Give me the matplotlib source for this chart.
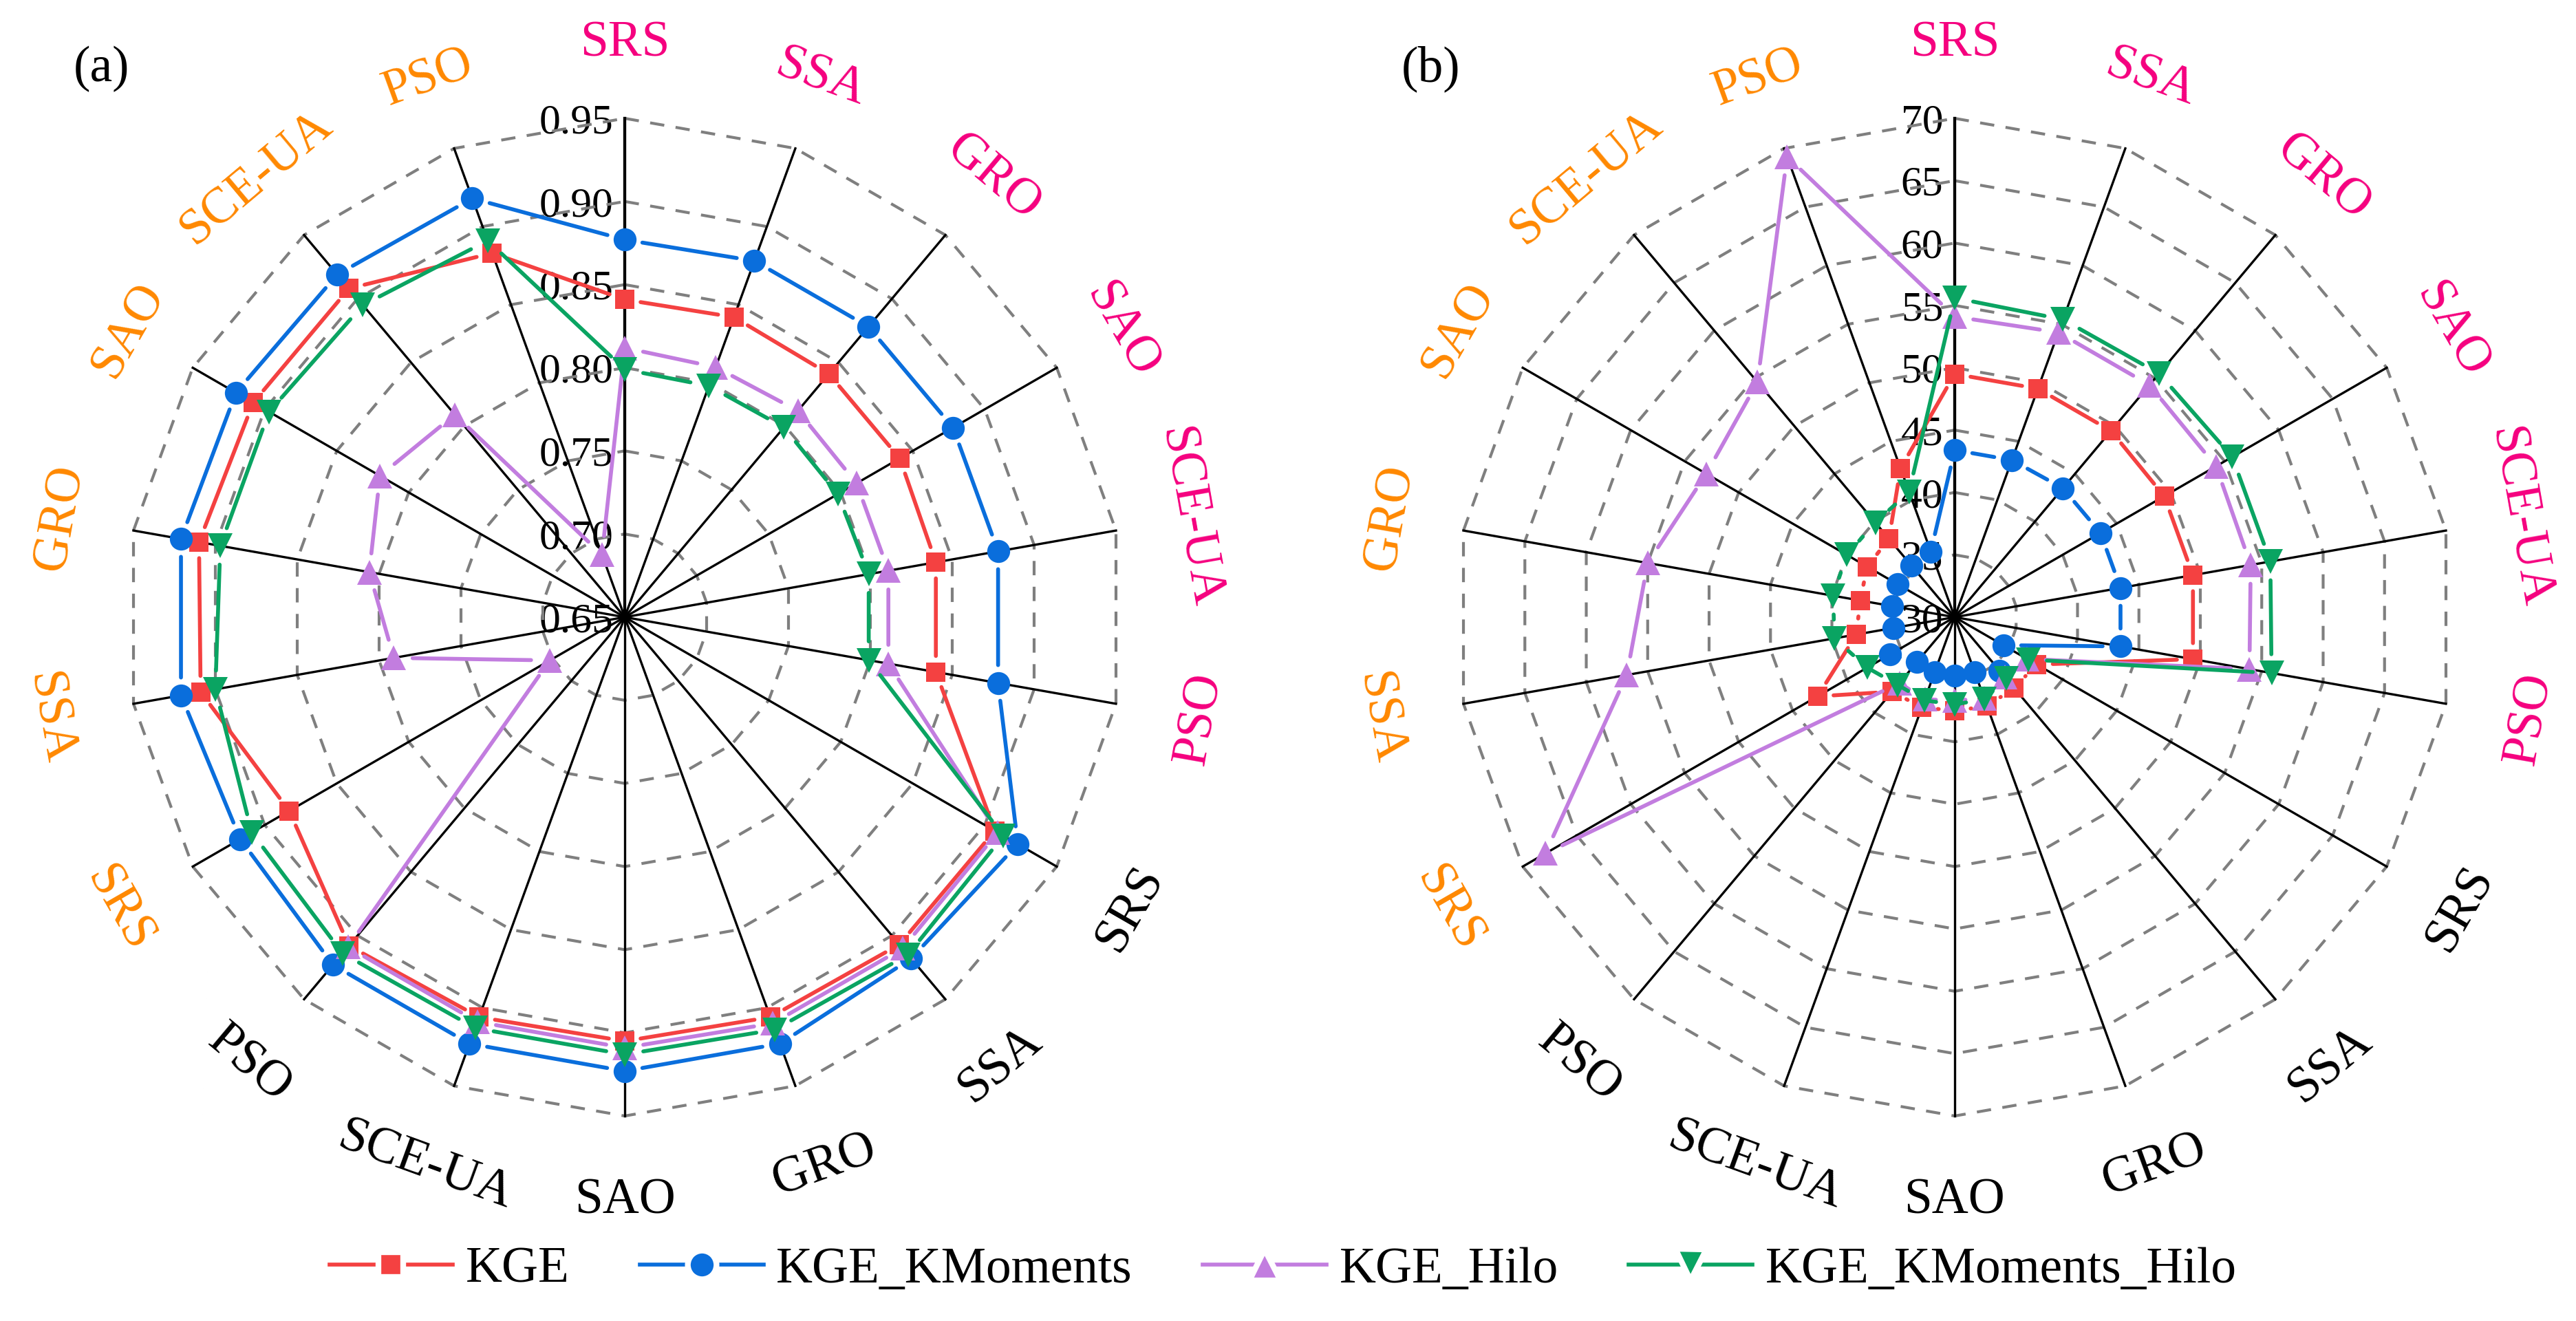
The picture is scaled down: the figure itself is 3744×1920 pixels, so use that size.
import numpy as np
import matplotlib
matplotlib.use('Agg')
from matplotlib import pyplot as plt
from matplotlib.lines import Line2D

plt.rcParams['font.family'] = ['Liberation Serif', 'DejaVu Serif']

# spoke labels, clockwise from the top
algs = ['SRS', 'SSA', 'GRO', 'SAO', 'SCE-UA', 'PSO']
labels = algs * 3
label_cols = ['#F5007F'] * 6 + ['black'] * 6 + ['#FF8800'] * 6

names = ['KGE', 'KGE_KMoments', 'KGE_Hilo', 'KGE_KMoments_Hilo']

# panel (a)
kge_a = [0.841, 0.842, 0.841, 0.841, 0.840, 0.840, 0.907, 0.907, 0.906,
         0.905, 0.906, 0.908, 0.883, 0.909, 0.910, 0.908, 0.908, 0.883]
kmom_a = [0.877, 0.878, 0.878, 0.878, 0.878, 0.878, 0.923, 0.918, 0.923,
          0.923, 0.923, 0.923, 0.917, 0.921, 0.921, 0.920, 0.919, 0.918]
hilo_a = [0.812, 0.810, 0.812, 0.811, 0.811, 0.811, 0.909, 0.910, 0.910,
          0.909, 0.909, 0.909, 0.702, 0.791, 0.806, 0.820, 0.809, 0.690]
kmh_a = [0.799, 0.798, 0.799, 0.798, 0.799, 0.799, 0.913, 0.915, 0.914,
         0.913, 0.913, 0.914, 0.909, 0.900, 0.897, 0.897, 0.895, 0.891]
ticks_a = [0.65, 0.70, 0.75, 0.80, 0.85, 0.90, 0.95]
ticklab_a = ['0.65', '0.70', '0.75', '0.80', '0.85', '0.90', '0.95']

# panel (b)
kge_b = [49.5, 49.5, 49.5, 49.4, 49.4, 49.4, 37.6, 37.4, 37.6,
         37.5, 37.7, 37.8, 42.7, 38.0, 37.7, 38.1, 38.2, 42.7]
kmom_b = [43.4, 43.4, 43.5, 43.5, 43.5, 43.5, 34.5, 35.6, 34.7,
          34.7, 34.7, 34.7, 36.0, 35.0, 35.1, 35.3, 35.4, 35.6]
hilo_b = [54.1, 54.3, 54.3, 54.2, 54.1, 54.0, 36.7, 36.3, 36.9,
          36.7, 37.0, 36.9, 67.9, 56.7, 55.0, 53.0, 54.6, 69.3]
kmh_b = [55.6, 55.4, 55.5, 55.7, 55.7, 55.8, 36.8, 36.4, 37.0,
         37.0, 37.1, 37.1, 38.1, 39.8, 39.9, 40.0, 39.9, 40.7]
ticks_b = [30, 35, 40, 45, 50, 55, 60, 65, 70]
ticklab_b = [str(t) for t in ticks_b]

colors = ['#F44141', '#0A6EDC', '#C27DDF', '#0AA462']
markers = ['s', 'o', '^', 'v']
msizes = [8.4, 10, 11, 11]
shrinks = [7.0, 7.8, 8.2, 8.2]

W, H = 3744, 1920
R = 725
fig = plt.figure(figsize=(15.6, 8.0), dpi=240)


def radar(cx, cy, series, ticks, ticklabs, tag):
    ax = fig.add_axes([(cx - R) / W, 1 - (cy + R) / H, 2 * R / W, 2 * R / H],
                      projection='polar')
    ax.set_theta_zero_location('N')
    ax.set_theta_direction(-1)
    rmin, rmax = ticks[0], ticks[-1]
    ax.set_ylim(rmin, rmax)
    ax.axis('off')

    n = len(labels)
    ang = np.arange(n) * 360.0 / n
    th = np.deg2rad(ang)
    closed = np.r_[th, th[0]]

    # dashed polygon rings
    for t in ticks[1:]:
        ax.plot(closed, [t] * (n + 1), color='#7F7F7F', lw=1.25,
                ls=(0, (5, 4)), zorder=1, clip_on=False)
    # spokes
    for k, a in enumerate(th):
        ax.plot([a, a], [rmin, rmax], color='black',
                lw=1.3 if k == 0 else 1.0, zorder=2, clip_on=False)

    # radial tick labels along the top spoke
    for t, lab in zip(ticks, ticklabs):
        ax.annotate(lab, xy=(0, t), xytext=(-5, 0), textcoords='offset points',
                    ha='right', va='center_baseline', fontsize=18.5, zorder=0.5,
                    annotation_clip=False)

    # spoke labels
    rl = rmin + 1.16 * (rmax - rmin)
    for a, d, lab, col in zip(th, ang, labels, label_cols):
        rot = -d if (d <= 90 or d > 270) else 180 - d
        ax.text(a, rl, lab, rotation=rot, rotation_mode='anchor',
                ha='center', va='center_baseline', fontsize=22, color=col)

    # series: lines with a gap to the symbol, then symbols
    for i, vals in enumerate(series):
        z = 3 + i
        for j in range(n):
            k = (j + 1) % n
            ax.annotate('', xy=(th[k], vals[k]), xytext=(th[j], vals[j]),
                        arrowprops=dict(arrowstyle='-', color=colors[i], lw=1.7,
                                        shrinkA=shrinks[i], shrinkB=shrinks[i]),
                        annotation_clip=False, zorder=z)
        ax.plot(th, vals, ls='none', marker=markers[i], ms=msizes[i],
                color=colors[i], mew=0, zorder=z + 0.5, clip_on=False)

    fig.text((cx - 761) / W, 1 - 100 / H, tag, fontsize=22,
             ha='center', va='center')
    return ax


radar(908, 897, [kge_a, kmom_a, hilo_a, kmh_a], ticks_a, ticklab_a, '(a)')
radar(2841, 897, [kge_b, kmom_b, hilo_b, kmh_b], ticks_b, ticklab_b, '(b)')

handles = []
for c, m, s in zip(colors, markers, msizes):
    handles.append(Line2D([], [], color=c, lw=1.7, marker=m, ms=s + 2.5,
                          mfc=c, mec='white', mew=2.5))
fig.legend(handles, names, loc='center', bbox_to_anchor=(0.498, 0.0385),
           ncol=4, frameon=False, fontsize=22, handlelength=2.45,
           handletextpad=0.25, columnspacing=1.4, borderaxespad=0)

fig.savefig('out.png', dpi=240)
